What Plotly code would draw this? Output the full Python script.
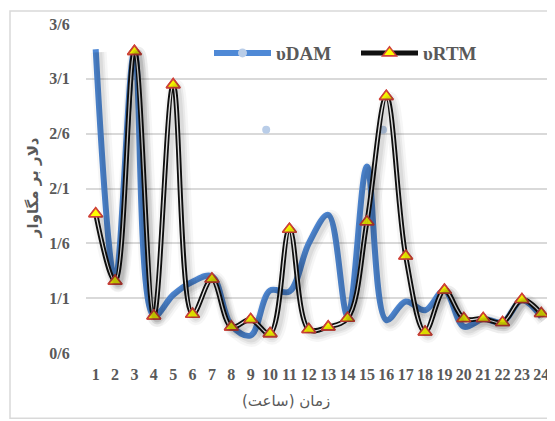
import plotly.graph_objects as go

hours = list(range(1, 25))
dam = [3.37, 1.26, 3.35, 0.94, 1.13, 1.25, 1.30, 0.85, 0.76, 1.17, 1.16, 1.60,
       1.86, 0.94, 2.30, 0.90, 1.07, 0.99, 1.17, 0.84, 0.91, 0.88, 1.08, 0.93]
rtm = [1.87, 1.255, 3.35, 0.938, 3.047, 0.954, 1.274, 0.838, 0.905, 0.777, 1.728, 0.814,
       0.838, 0.917, 1.797, 2.94, 1.484, 0.792, 1.173, 0.914, 0.914, 0.878, 1.088, 0.96]
stray_x = [9.8, 15.83]
stray_y = [2.636, 2.636]
y_tickvals = [0.6, 1.1, 1.6, 2.1, 2.6, 3.1, 3.6]
y_ticktext = ["0/6", "1/1", "1/6", "2/1", "2/6", "3/1", "3/6"]
x_title = "زمان (ساعت)"
y_title = "دلار بر مگاوار"
name_dam = "υDAM"
name_rtm = "υRTM"

BLUE = "#4f89d6"
GREY = "#595959"
GRID = "#d9d9d9"

# page body has an 8px margin: work in page pixels, then convert
OFF = 8
W, H = 555 - OFF, 421 - OFF
PL, PR, PT, PB = 86, 551, 24, 352.7  # plot area in page pixels
L = PL - OFF
R = W - (PR - OFF)
T = PT - OFF
B = H - (PB - OFF)
pw = PR - PL
ph = PB - PT

def px_to_paper_x(px):
    return (px - PL) / pw

def px_to_paper_y(py):
    return (PB - py) / ph

fig = go.Figure()

# soft shadows (same data, slightly offset axes)
for w, a in [(16, 0.035), (11, 0.05), (7, 0.06)]:
    fig.add_trace(go.Scatter(x=hours, y=dam, mode="lines", line=dict(color=f"rgba(0,0,0,{a})", width=w, shape="spline", smoothing=1),
                             xaxis="x2", yaxis="y2", showlegend=False, hoverinfo="skip"))
    fig.add_trace(go.Scatter(x=hours, y=rtm, mode="lines", line=dict(color=f"rgba(0,0,0,{a})", width=w, shape="spline", smoothing=1),
                             xaxis="x2", yaxis="y2", showlegend=False, hoverinfo="skip"))

fig.add_trace(go.Scatter(x=stray_x, y=stray_y, mode="markers", marker=dict(color="#b9cde8", size=8),
                         showlegend=False, hoverinfo="skip"))

fig.add_trace(go.Scatter(x=hours, y=dam, mode="lines", line=dict(color=BLUE, width=6, shape="spline", smoothing=1),
                         showlegend=False, name=name_dam))
# legend entry for DAM (line + light marker)
fig.add_trace(go.Scatter(x=[None], y=[None], mode="lines+markers", name=name_dam,
                         line=dict(color=BLUE, width=6), marker=dict(color="#b9cde8", size=9)))

fig.add_trace(go.Scatter(x=hours, y=rtm, mode="lines+markers", name=name_rtm,
                         line=dict(color="#111111", width=5, shape="spline", smoothing=1),
                         marker=dict(symbol="triangle-up", size=12, color="#ffff00", line=dict(color="#d0433a", width=1.6))))
fig.add_trace(go.Scatter(x=hours, y=rtm, mode="lines", line=dict(color="white", width=1.3, shape="spline", smoothing=1),
                         showlegend=False, hoverinfo="skip"))
fig.add_trace(go.Scatter(x=hours, y=rtm, mode="markers", showlegend=False,
                         marker=dict(symbol="triangle-up", size=12, color="#ffff00", line=dict(color="#d0433a", width=1.6))))

fig.update_layout(
    width=W, height=H,
    margin=dict(l=L, r=R, t=T, b=B, autoexpand=False),
    paper_bgcolor="white", plot_bgcolor="white",
    xaxis=dict(range=[0.5, 24.5], tickvals=hours, ticktext=[str(h) for h in hours],
               showgrid=False, zeroline=False, showline=False,
               ticks="outside", ticklen=7, tickcolor="rgba(0,0,0,0)",
               tickfont=dict(family="Liberation Serif", size=16, color=GREY, weight="bold")),
    yaxis=dict(range=[0.6, 3.6], tickvals=y_tickvals, ticktext=y_ticktext,
               showgrid=True, gridcolor=GRID, gridwidth=1.5, zeroline=False, showline=False,
               ticks="outside", ticklen=12, tickcolor="rgba(0,0,0,0)",
               tickfont=dict(family="Liberation Serif", size=16, color=GREY, weight="bold")),
    xaxis2=dict(range=[0.5 - 3 / (pw / 24), 24.5 - 3 / (pw / 24)], overlaying="x", visible=False),
    yaxis2=dict(range=[0.6 + 3 / (ph / 3.0), 3.6 + 3 / (ph / 3.0)], overlaying="y", visible=False),
    legend=dict(orientation="h", x=px_to_paper_x(209), y=px_to_paper_y(53), xanchor="left", yanchor="middle",
                bgcolor="rgba(0,0,0,0)", entrywidth=75, entrywidthmode="pixels", itemwidth=57,
                font=dict(family="Liberation Serif", size=19, color=GREY, weight="bold")),
    showlegend=True,
    annotations=[
        dict(text=x_title, xref="paper", yref="paper", x=px_to_paper_x(286), y=px_to_paper_y(401),
             showarrow=False, xanchor="center", yanchor="middle",
             font=dict(family="DejaVu Sans", size=15, color=GREY)),
        dict(text=y_title, xref="paper", yref="paper", x=px_to_paper_x(33), y=px_to_paper_y(188),
             showarrow=False, xanchor="center", yanchor="middle", textangle=-90,
             font=dict(family="DejaVu Sans", size=15, color=GREY, weight="bold")),
    ],
    shapes=[
        dict(type="rect", xref="paper", yref="paper", x0=px_to_paper_x(10), x1=px_to_paper_x(570),
             y0=px_to_paper_y(418), y1=px_to_paper_y(11), line=dict(color=GRID, width=1.5), layer="below"),
    ],
)

fig.write_html("out.html")
